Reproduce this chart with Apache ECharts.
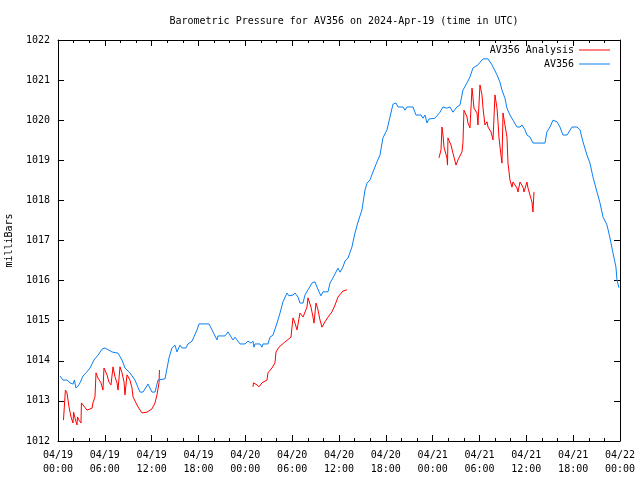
<!DOCTYPE html>
<html><head><meta charset="utf-8">
<script src="https://cdn.jsdelivr.net/npm/echarts@6/dist/echarts.min.js"></script>
<style>html,body{margin:0;padding:0;background:#fff}#c{width:640px;height:480px}</style>
</head><body><div id="c"></div>
<script>
const titleText = 'Barometric Pressure for AV356 on 2024-Apr-19 (time in UTC)';
const yAxisName = 'milliBars';
const xTickLabels = ['04/19\n00:00','04/19\n06:00','04/19\n12:00','04/19\n18:00','04/20\n00:00','04/20\n06:00','04/20\n12:00','04/20\n18:00','04/21\n00:00','04/21\n06:00','04/21\n12:00','04/21\n18:00','04/22\n00:00'];
const seriesNames = ['AV356 Analysis','AV356'];

// hours since 04/19 00:00 UTC
const blueHours = [0.26,0.64,1.15,1.54,1.92,2.1,2.31,2.56,2.82,3.20,3.59,3.84,4.10,4.36,4.61,5.12,5.64,6.02,6.92,7.69,8.20,8.58,9.22,9.86,10.50,10.89,11.53,12.04,12.43,12.81,13.71,
 14.22,14.60,14.99,15.24,15.63,15.89,16.40,16.65,17.17,17.81,18.06,19.34,19.86,20.37,20.50,21.39,21.78,22.42,22.68,22.93,23.32,23.96,24.34,24.72,24.98,25.11,25.24,25.88,26.13,26.26,26.90,27.16,27.54,28.06,28.44,28.82,29.34,29.59,30.11,30.36,30.75,31.00,31.39,31.64,32.03,32.54,32.92,33.18,33.44,33.69,33.95,34.59,34.85,35.23,
 35.87,36.13,36.51,36.77,37.15,37.66,38.05,38.43,38.94,39.33,39.59,39.97,40.35,40.87,41.25,41.63,42.15,42.53,42.92,43.30,43.56,44.20,44.45,44.71,45.48,45.86,46.50,46.76,47.02,47.27,47.53,
 48.30,48.94,49.32,49.83,50.22,50.60,51.11,51.50,51.88,52.40,52.78,53.16,53.80,54.45,55.09,55.60,56.24,56.62,56.88,57.26,57.52,57.90,58.29,58.80,59.19,59.44,59.83,60.08,60.47,60.85,62.39,62.64,63.03,63.41,63.93,64.31,64.69,65.21,65.85,66.49,66.87,67.26,67.77,68.15,68.54,69.05,69.43,69.82,70.33,70.72,71.10,71.48,71.61,71.87];
const bluePressure = [1013.62,1013.52,1013.52,1013.45,1013.42,1013.52,1013.32,1013.37,1013.45,1013.62,1013.70,1013.72,1013.82,1013.92,1014.02,1014.14,1014.29,1014.32,1014.22,1014.19,1014.02,1013.82,1013.70,1013.52,1013.22,1013.22,1013.42,1013.22,1013.22,1013.52,1013.55,
 1014.07,1014.32,1014.39,1014.22,1014.39,1014.32,1014.32,1014.42,1014.49,1014.77,1014.92,1014.92,1014.72,1014.52,1014.62,1014.62,1014.72,1014.52,1014.59,1014.52,1014.42,1014.42,1014.49,1014.44,1014.49,1014.34,1014.42,1014.42,1014.34,1014.42,1014.42,1014.59,1014.64,1014.94,1015.19,1015.47,1015.69,1015.62,1015.64,1015.69,1015.59,1015.44,1015.44,1015.64,1015.77,1015.94,1015.97,1015.84,1015.72,1015.62,1015.72,1015.72,1015.94,1016.07,
 1016.31,1016.21,1016.34,1016.49,1016.56,1016.84,1017.19,1017.46,1017.76,1018.26,1018.43,1018.51,1018.71,1018.96,1019.13,1019.56,1019.76,1020.08,1020.40,1020.43,1020.33,1020.33,1020.25,1020.33,1020.33,1020.13,1020.13,1020.05,1020.13,1019.93,1020.03,
 1020.05,1020.20,1020.33,1020.30,1020.33,1020.20,1020.33,1020.38,1020.75,1020.93,1021.08,1021.30,1021.38,1021.53,1021.53,1021.38,1021.13,1020.95,1020.75,1020.55,1020.30,1020.13,1020.00,1019.83,1019.83,1019.88,1019.76,1019.63,1019.58,1019.43,1019.43,1019.71,1019.83,1020.00,1019.96,1019.83,1019.63,1019.63,1019.83,1019.83,1019.76,1019.46,1019.13,1018.93,1018.58,1018.21,1017.94,1017.59,1017.39,1017.06,1016.69,1016.34,1016.02,1015.82];

// null entries mark gaps in the analysis series
const redHours = [0.70,0.95,1.15,1.41,1.67,1.92,2.0,2.18,2.43,2.5,2.69,2.95,3.0,3.20,3.72,3.97,4.36,4.48,4.74,4.87,5.12,5.51,5.76,5.89,6.28,6.53,6.79,7.05,7.30,7.56,7.69,7.94,8.20,8.46,8.58,8.84,9.22,9.48,9.61,9.99,10.25,10.76,11.40,12.04,12.43,12.68,12.94,13.0,
 18.0,
 24.98,25.05,25.49,25.75,26.13,26.77,26.90,27.41,27.80,27.93,28.31,29.08,29.85,29.98,30.11,30.36,30.62,31.00,31.39,31.64,31.90,32.03,32.41,32.67,32.80,33.05,33.31,33.56,33.82,34.20,34.59,35.10,35.49,35.87,36.51,37.02,
 43.0,
 48.81,49.07,49.19,49.32,49.45,49.83,49.9,49.96,50.35,50.60,50.99,51.24,51.76,51.88,52.01,52.40,52.52,52.78,53.04,53.16,53.29,53.68,53.80,54.06,54.32,54.45,54.70,54.96,55.09,55.47,55.73,55.98,56.24,56.37,56.50,56.75,56.88,57.01,57.26,57.52,57.65,57.90,58.16,58.29,58.80,58.93,59.19,59.57,59.70,60.08,60.21,60.47,60.72,60.85,60.98];
const redPressure = [1012.52,1013.27,1013.20,1012.85,1012.60,1012.45,1012.72,1012.57,1012.40,1012.60,1012.52,1012.45,1012.95,1012.90,1012.77,1012.75,1012.82,1012.95,1013.10,1013.70,1013.57,1013.45,1013.27,1013.82,1013.65,1013.47,1013.40,1013.85,1013.60,1013.45,1013.27,1013.85,1013.70,1013.47,1013.15,1013.65,1013.52,1013.32,1013.10,1012.95,1012.85,1012.70,1012.72,1012.80,1012.95,1013.15,1013.45,1013.77,
 null,
 1013.35,1013.45,1013.40,1013.35,1013.45,1013.52,1013.70,1013.82,1013.95,1014.22,1014.34,1014.47,1014.59,1014.84,1015.07,1014.94,1014.77,1015.19,1015.09,1015.07,1015.34,1015.57,1015.34,1015.09,1014.94,1015.44,1015.27,1015.02,1014.84,1014.97,1015.09,1015.22,1015.39,1015.59,1015.74,1015.77,
 null,
 1019.06,1019.26,1019.83,1019.63,1019.33,1019.06,1018.88,1019.56,1019.38,1019.18,1018.88,1019.01,1019.21,1019.43,1020.25,1020.08,1019.93,1019.81,1020.80,1020.58,1020.30,1020.18,1019.88,1020.88,1020.63,1020.30,1019.88,1019.96,1019.83,1019.71,1019.51,1020.63,1020.30,1019.96,1019.56,1019.13,1018.93,1020.18,1019.88,1019.58,1018.93,1018.51,1018.33,1018.46,1018.31,1018.21,1018.46,1018.33,1018.21,1018.46,1018.31,1018.13,1017.96,1017.71,1018.21];

const FONT = 'DejaVu Sans Mono';
const chart = echarts.init(document.getElementById('c'), null, {renderer:'canvas'});
const pairs = (xs, ys) => xs.map((x, i) => [x, ys[i]]);
const tickStyle = {show:true, inside:true, length:6, lineStyle:{color:'#000', width:1}};
const minorStyle = {show:true, splitNumber:3, length:3, lineStyle:{color:'#000', width:1}};
const xBase = {type:'value', min:0, max:72, interval:6, splitLine:{show:false},
  axisLine:{show:true, onZero:false, lineStyle:{color:'#000', width:1}}, axisTick:tickStyle, minorTick:minorStyle};
const yBase = {type:'value', min:1012, max:1022, interval:1, splitLine:{show:false},
  axisLine:{show:true, onZero:false, lineStyle:{color:'#000', width:1}}, axisTick:tickStyle};

chart.setOption({
  animation:false,
  backgroundColor:'#fff',
  textStyle:{fontFamily:FONT, color:'#000'},
  title:{text:titleText, left:339, top:11, textAlign:'center',
    textStyle:{fontFamily:FONT, fontSize:10, fontWeight:'normal', color:'#000'}},
  legend:[
    {data:[seriesNames[0]], right:25, top:40, align:'right', orient:'vertical', itemWidth:31, itemHeight:1, itemGap:4, icon:'rect',
      textStyle:{fontFamily:FONT, fontSize:10, color:'#000'}},
    {data:[seriesNames[1]], right:25, top:54, align:'right', orient:'vertical', itemWidth:31, itemHeight:1, itemGap:4, icon:'rect',
      textStyle:{fontFamily:FONT, fontSize:10, color:'#000'}}
  ],
  grid:{left:58, right:20, top:40, bottom:39, containLabel:false, outerBoundsMode:'none'},
  xAxis:[
    Object.assign({}, xBase, {position:'bottom',
      axisLabel:{show:true, margin:7, fontFamily:FONT, fontSize:10, color:'#000', lineHeight:14,
        formatter:(v) => xTickLabels[Math.round(v/6)] || ''}}),
    Object.assign({}, xBase, {position:'top', axisLabel:{show:false}})
  ],
  yAxis:[
    Object.assign({}, yBase, {position:'left', name:yAxisName, nameLocation:'middle', nameGap:44, nameRotate:90,
      nameTextStyle:{fontFamily:FONT, fontSize:10, color:'#000'},
      axisLabel:{show:true, margin:8, fontFamily:FONT, fontSize:10, color:'#000', formatter:(v) => String(v)}}),
    Object.assign({}, yBase, {position:'right', axisLabel:{show:false}})
  ],
  series:[
    {name:seriesNames[0], type:'line', xAxisIndex:0, yAxisIndex:0, data:pairs(redHours, redPressure),
      showSymbol:false, symbol:'none', connectNulls:false, lineStyle:{color:'#ff0000', width:1}, itemStyle:{color:'#ff0000'}},
    {name:seriesNames[1], type:'line', xAxisIndex:0, yAxisIndex:0, data:pairs(blueHours, bluePressure),
      showSymbol:false, symbol:'none', lineStyle:{color:'#0a7ff5', width:1}, itemStyle:{color:'#0a7ff5'}}
  ]
});
</script></body></html>
